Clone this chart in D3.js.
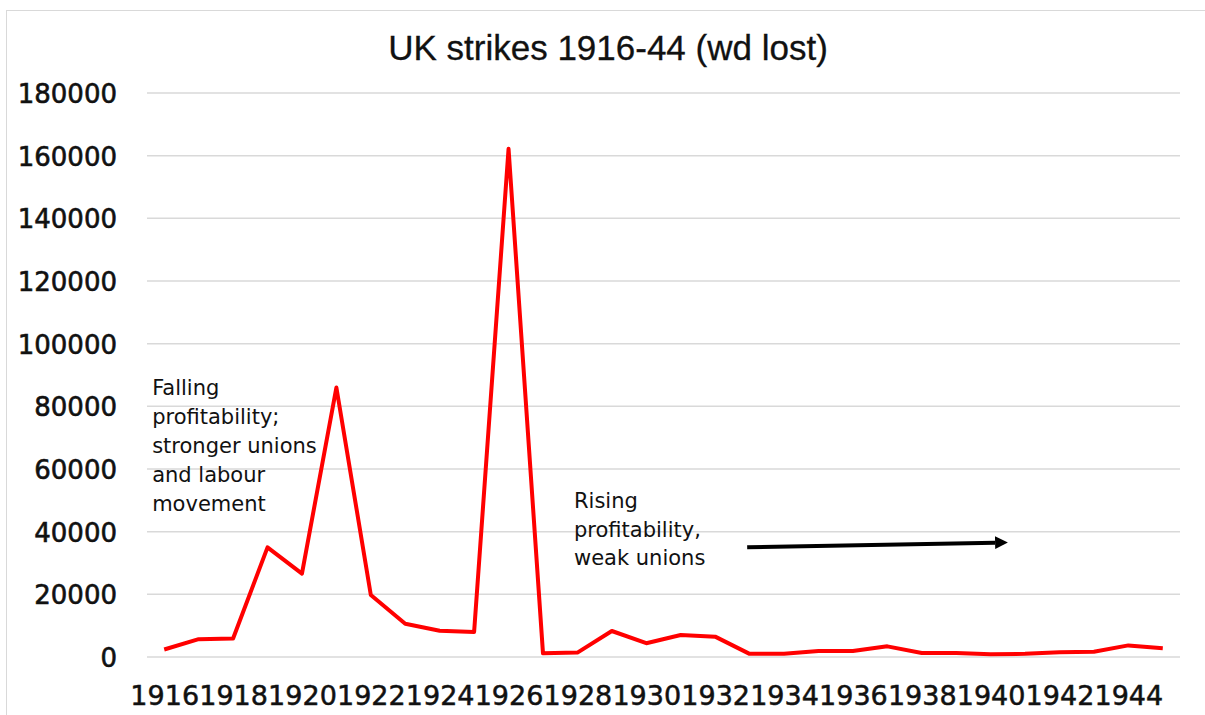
<!DOCTYPE html>
<html>
<head>
<meta charset="utf-8">
<script src="https://cdn.jsdelivr.net/npm/d3@7/dist/d3.min.js"></script>
<style>
  body{margin:0;background:#fff;}
  svg{display:block;}
</style>
</head>
<body>
<div id="chart"></div>
<script>
/* UK strikes 1916-44, working days lost (thousands) */

var years = ["1916","1917","1918","1919","1920","1921","1922","1923","1924","1925",
  "1926","1927","1928","1929","1930","1931","1932","1933","1934","1935",
  "1936","1937","1938","1939","1940","1941","1942","1943","1944","1945"];
var daysLost = [2400,5700,5900,35000,26600,86000,19800,10600,8400,8000,
  162200,1200,1400,8300,4400,7000,6500,1000,1000,1900,
  1900,3400,1300,1300,900,1000,1500,1700,3700,2800];
var yTicks = [0,20000,40000,60000,80000,100000,120000,140000,160000,180000];
var xTickLabels = ["1916","1918","1920","1922","1924","1926","1928","1930",
  "1932","1934","1936","1938","1940","1942","1944"];

var W = 1205, H = 715;
var plotL = 147, plotR = 1180, plotT = 93, plotB = 657;

var svg = d3.select("#chart")
  .append("svg")
  .attr("width", W)
  .attr("height", H);

// outer chart border
svg.append("rect")
  .attr("x", 6.5).attr("y", 10.5)
  .attr("width", 1215).attr("height", 720)
  .attr("fill", "#fff")
  .attr("stroke", "#d9d9d9")
  .attr("stroke-width", 1);

var x = d3.scalePoint().domain(years).range([plotL, plotR]).padding(0.5);
var y = d3.scaleLinear().domain([0, 180000]).range([plotB, plotT]);
// helper for placing the notes between categories
var xYear = d3.scaleLinear().domain([1916, 1945]).range([x("1916"), x("1945")]);

svg.append("text")
  .attr("x", 608).attr("y", 60)
  .attr("text-anchor", "middle")
  .style("font-family", "Liberation Sans, Arial, sans-serif")
  .style("font-size", "35px")
  .attr("fill", "#111")
  .attr("stroke", "#111").attr("stroke-width", 0.3)
  .text("UK strikes 1916-44 (wd lost)");

// gridlines
svg.append("g")
  .selectAll("line")
  .data(yTicks).enter()
  .append("line")
  .attr("x1", plotL).attr("x2", plotR)
  .attr("y1", function(d){return y(d);})
  .attr("y2", function(d){return y(d);})
  .attr("stroke", "#d9d9d9")
  .attr("stroke-width", 1.5);

// y axis labels
var yAxis = svg.append("g")
  .attr("transform", "translate(117,0)")
  .call(d3.axisLeft(y).tickValues(yTicks).tickSize(0).tickPadding(0).tickFormat(d3.format("d")));
yAxis.select(".domain").remove();
yAxis.selectAll("text")
  .attr("dy", "0.36em")
  .style("font-family", "DejaVu Sans, sans-serif")
  .style("font-size", "26px")
  .attr("fill", "#111")
  .attr("stroke", "#111").attr("stroke-width", 0.6);

// x axis labels, every other year
var xAxis = svg.append("g")
  .attr("transform", "translate(0," + plotB + ")")
  .call(d3.axisBottom(x).tickValues(xTickLabels).tickSize(0).tickPadding(0));
xAxis.select(".domain").remove();
xAxis.selectAll("text")
  .attr("y", 48).attr("dy", 0)
  .style("font-family", "DejaVu Sans, sans-serif")
  .style("font-size", "27px")
  .attr("fill", "#111")
  .attr("stroke", "#111").attr("stroke-width", 0.5);

// the series
var line = d3.line()
  .x(function(d, i){return x(years[i]);})
  .y(function(d){return y(d);});

svg.append("path")
  .datum(daysLost)
  .attr("d", line)
  .attr("fill", "none")
  .attr("stroke", "#ff0000")
  .attr("stroke-width", 4)
  .attr("stroke-linejoin", "round");

// notes
var noteFont = "DejaVu Sans, sans-serif";
var leftNote = ["Falling", "profitability;", "stronger unions", "and labour", "movement"];
var rightNote = ["Rising", "profitability,", "weak unions"];

svg.append("text")
  .attr("x", xYear(1915.65)).attr("y", y(83600))
  .style("font-family", noteFont).style("font-size", "21px")
  .attr("fill", "#111")
  .selectAll("tspan")
  .data(leftNote).enter()
  .append("tspan")
  .attr("x", xYear(1915.65))
  .attr("dy", function(d, i){return i ? 29 : 0;})
  .text(function(d){return d;});

svg.append("text")
  .attr("x", xYear(1927.9)).attr("y", y(47500))
  .style("font-family", noteFont).style("font-size", "21px")
  .attr("fill", "#111")
  .selectAll("tspan")
  .data(rightNote).enter()
  .append("tspan")
  .attr("x", xYear(1927.9))
  .attr("dy", function(d, i){return i ? 28.5 : 0;})
  .text(function(d){return d;});

// arrow
svg.append("defs").append("marker")
  .attr("id", "head")
  .attr("viewBox", "0 0 10 10")
  .attr("refX", 0).attr("refY", 5)
  .attr("markerWidth", 3.4).attr("markerHeight", 3.2)
  .attr("orient", "auto")
  .append("path")
  .attr("d", "M0,0L10,5L0,10Z")
  .attr("fill", "#000");

var ax0 = xYear(1932.93), ax1 = xYear(1940.13);
svg.append("line")
  .attr("x1", ax0).attr("y1", y(35000))
  .attr("x2", ax1).attr("y2", y(36500))
  .attr("stroke", "#000")
  .attr("stroke-width", 4)
  .attr("marker-end", "url(#head)");
</script>
</body>
</html>
